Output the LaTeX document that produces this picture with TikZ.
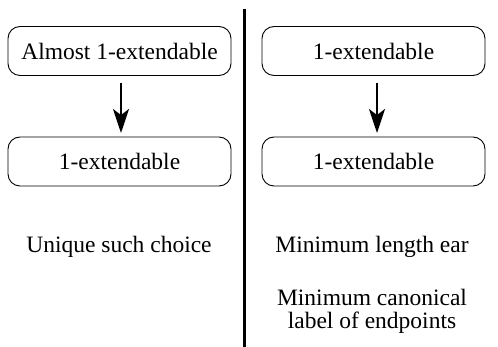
\documentclass[tikz,border=0pt]{standalone}
\usepackage{fontspec}
\setmainfont{Liberation Serif}
\usetikzlibrary{arrows.meta}
\begin{document}
\begin{tikzpicture}[x=1pt,y=-1pt,
  boxnode/.style={draw, line width=0.9pt, rounded corners=12pt, minimum width=223pt, minimum height=49pt, inner sep=0pt, font=\fontsize{23.5}{28}\selectfont},
  txt/.style={font=\fontsize{23.5}{23}\selectfont, inner sep=0pt, align=center},
  arr/.style={line width=2pt, -{Stealth[length=24pt,width=16pt,inset=6pt]}}]
\useasboundingbox (0,0) rectangle (498,347);
\node[boxnode] (a1) at (119.5,51) {Almost 1-extendable};
\node[boxnode] (a2) at (119.5,161.5) {1-extendable};
\node[boxnode] (b1) at (373.5,51) {1-extendable};
\node[boxnode] (b2) at (373.5,161.5) {1-extendable};
\draw[arr] (121,83) coordinate (as) -- (121,133) coordinate (ae);
\draw[arr] (377,83) coordinate (bs) -- (377,133) coordinate (be);
\coordinate (vtop) at (244.5,9);
\coordinate (vbot) at (244.5,347);
\draw[line width=2.4pt] (vtop) -- (vbot);
\node[txt] (u) at (119,247) {Unique such choice};
\node[txt] (m) at (372,247) {Minimum length ear};
\node[txt] (c) at (372,311.5) {Minimum canonical\\label of endpoints};
\end{tikzpicture}
\end{document}
